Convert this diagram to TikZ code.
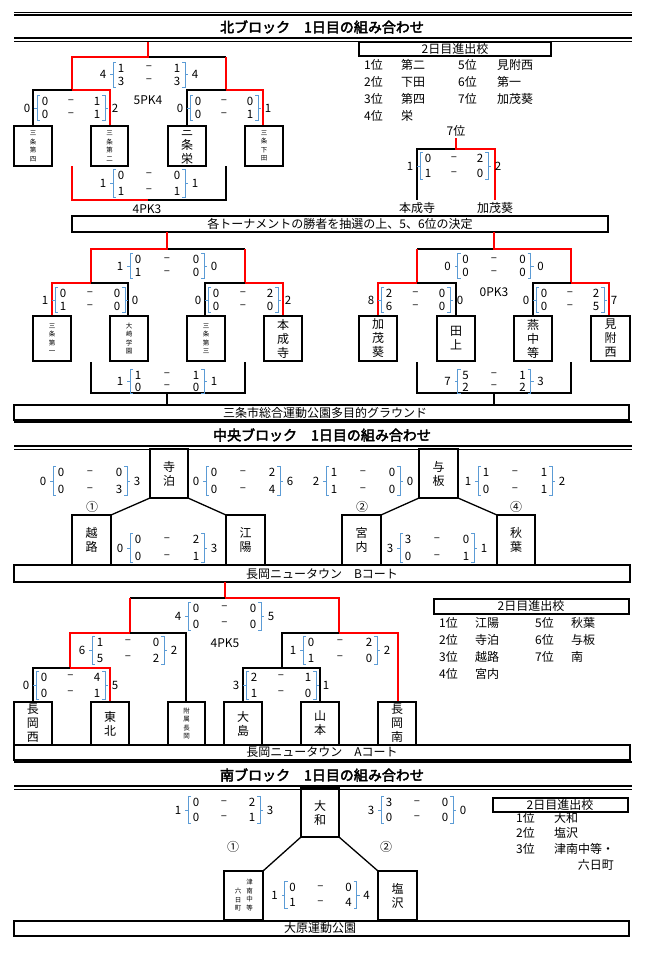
\documentclass[tikz,border=0pt]{standalone}
\usepackage{fontspec}
\setmainfont{Noto Sans CJK JP}[AutoFakeBold=3]
\newcommand\rowsp{6.5}
\newcommand\scr[9]{%
\begin{scope}[shift={(#1,#2)}]
\pgfmathsetmacro\bh{\rowsp+6}
\draw[bl] ({-#3+3},-\bh) -- ({-#3},-\bh) -- ({-#3},\bh) -- ({-#3+3},\bh) ({-#3},0) -- ({-#3-3},0);
\draw[bl] ({#3-3},-\bh) -- ({#3},-\bh) -- ({#3},\bh) -- ({#3-3},\bh) ({#3},0) -- ({#3+3},0);
\node[sn] at ({-#3-10},0) {#4};
\node[sn] at ({-#3+8},-\rowsp) {#5}; \node[sn] at (0,-\rowsp) {–}; \node[sn] at ({#3-8},-\rowsp) {#6};
\node[sn] at ({-#3+8},\rowsp) {#7}; \node[sn] at (0,\rowsp) {–}; \node[sn] at ({#3-8},\rowsp) {#8};
\node[sn] at ({#3+10},0) {#9};
\end{scope}}
\newcommand\tbox[6]{\draw[bx] (#2,#3) rectangle (#4,#5); \node[vt] (#1) at ({(#2+#4)/2},{(#3+#5)/2}) {#6};}
\newcommand\smbox[6]{\draw[bx] (#2,#3) rectangle (#4,#5); \node[vs] (#1) at ({(#2+#4)/2},{(#3+#5)/2}) {#6};}
\tikzset{
 bl/.style={draw={rgb,255:red,91;green,155;blue,213},line width=0.8pt},
 sn/.style={inner sep=0pt,font=\fontsize{11.5}{12}\selectfont},
 bx/.style={draw=black,line width=1.5pt},
 bk/.style={draw=black,line width=1.3pt},
 rd/.style={draw=red,line width=2.4pt},
 vt/.style={inner sep=0pt,align=center,font=\fontsize{12}{14}\selectfont},
 vs/.style={inner sep=0pt,align=center,font=\fontsize{6.5}{8.5}\selectfont},
 ttl/.style={inner sep=0pt,font=\bfseries\fontsize{14}{14}\selectfont},
 tx/.style={inner sep=0pt,font=\fontsize{12}{12}\selectfont},
 lab/.style={inner sep=0pt,anchor=west,font=\fontsize{12}{12}\selectfont},
 bigbox/.style={draw=black,line width=1.8pt},
}
\begin{document}
\begin{tikzpicture}[x=1pt,y=-1pt]
\useasboundingbox (0,0) rectangle (650,962);
\fill[white] (0,0) rectangle (650,962);
% ===== North header
\draw[line width=0.8pt] (14,12) -- (632,12); \draw[line width=1.5pt] (14,15) -- (632,15);
\draw[line width=1.5pt] (14,38) -- (632,38); \draw[line width=0.8pt] (14,41) -- (632,41);
\node[ttl] (tN) at (322,27) {北ブロック　1日目の組み合わせ};
% main north bracket
\draw[bk] (148,57) -- (226,57);
\draw[rd] (148,42) -- (148,57) -- (72,57) -- (72,90) -- (110,90) -- (110,127);
\draw[bk] (72,90) -- (33,90) -- (33,127);
\draw[rd] (226,57) -- (226,90) -- (263,90) -- (263,127);
\draw[bk] (226,90) -- (187,90) -- (187,127);
\draw[rd] (72,166) -- (72,200) -- (148,200);
\draw[bk] (148,200) -- (226,200) -- (226,166);
\smbox{b1}{14}{126}{52}{166}{三\\条\\第\\四}
\smbox{b2}{91}{126}{128}{166}{三\\条\\第\\二}
\tbox{b3}{168}{126}{206}{166}{三\\条\\栄}
\smbox{b4}{245}{126}{283}{166}{三\\条\\下\\田}
\scr{149}{74.5}{36}{4}{1}{1}{3}{3}{4}
\node[tx] at (148,100) {5PK4};
\scr{71}{108}{34}{0}{0}{1}{0}{1}{2}
\scr{224}{108}{34}{0}{0}{0}{0}{1}{1}
{\renewcommand\rowsp{8}\scr{149}{183}{36}{1}{0}{0}{1}{1}{1}}
\node[tx] at (147,209) {4PK3};
% right list
\draw[bx] (359,42) rectangle (551,56);
\node[tx] at (455,49) {2日目進出校};
\foreach \a/\b/\c/\d [count=\i] in {1位/第二/5位/見附西,2位/下田/6位/第一,3位/第四/7位/加茂葵,4位/栄//}{
 \node[lab] at (364,{48+17*\i}) {\a}; \node[lab] at (401,{48+17*\i}) {\b};
 \node[lab] at (458,{48+17*\i}) {\c}; \node[lab] at (497,{48+17*\i}) {\d};}
\node[tx] (p7) at (456,131) {7位};
\draw[bk] (456,149) -- (417,149) -- (417,200);
\draw[rd] (456,138) -- (456,149) -- (495,149) -- (495,200);
{\renewcommand\rowsp{7.5}\scr{454}{166}{34}{1}{0}{2}{1}{0}{2}}
\node[tx] at (417,208) {本成寺};
\node[tx] at (495,208) {加茂葵};
\draw[bx] (72,216) rectangle (608,232);
\node[tx] at (340,224) {各トーナメントの勝者を抽選の上、5、6位の決定};
% lower north left
\draw[bk] (167,249) -- (245,249);
\draw[rd] (167,232) -- (167,249) -- (91,249) -- (91,283) -- (52,283) -- (52,316);
\draw[bk] (91,283) -- (128,283) -- (128,316);
\draw[rd] (245,249) -- (245,283) -- (283,283) -- (283,316);
\draw[bk] (245,283) -- (205,283) -- (205,316);
\smbox{c1}{33}{316}{71}{361}{三\\条\\第\\一}
\smbox{c2}{110}{316}{148}{361}{大\\崎\\学\\園}
\smbox{c3}{187}{316}{225}{361}{三\\条\\第\\三}
\tbox{c4}{264}{316}{302}{361}{本\\成\\寺}
\scr{167}{266}{37}{1}{0}{0}{1}{0}{0}
\scr{90}{300}{35}{1}{0}{0}{1}{0}{0}
\scr{243}{300}{35}{0}{0}{2}{0}{0}{2}
\draw[bk] (91,362) -- (91,393) -- (245,393) -- (245,362) (167,393) -- (167,405);
{\renewcommand\rowsp{6}\scr{167}{381}{37}{1}{1}{1}{0}{0}{1}}
% lower north right
\draw[bk] (494,249) -- (417,249);
\draw[rd] (494,232) -- (494,249) -- (571,249) -- (571,283) -- (609,283) -- (609,316);
\draw[rd] (417,249) -- (417,283) -- (378,283) -- (378,316);
\draw[bk] (417,283) -- (456,283) -- (456,316);
\draw[bk] (571,283) -- (533,283) -- (533,316);
\tbox{d1}{359}{316}{397}{361}{加\\茂\\葵}
\tbox{d2}{437}{316}{475}{361}{田\\上}
\tbox{d3}{514}{316}{552}{361}{燕\\中\\等}
\tbox{d4}{591}{316}{630}{361}{見\\附\\西}
\scr{494}{266}{36.5}{0}{0}{0}{0}{0}{0}
\node[tx] at (494,292) {0PK3};
\scr{415.5}{300}{34.5}{8}{2}{0}{6}{0}{0}
\scr{570}{300}{34}{0}{0}{2}{0}{5}{7}
\draw[bk] (417,362) -- (417,393) -- (571,393) -- (571,362) (494,393) -- (494,405);
{\renewcommand\rowsp{6}\scr{494}{381}{36.5}{7}{5}{1}{2}{2}{3}}
\draw[bigbox] (14,405) rectangle (629,420);
\node[tx] at (325,413) {三条市総合運動公園多目的グラウンド};
% ===== Central
\draw[line width=1.5pt] (14,422) -- (632,422);
\node[ttl] (tC) at (322,435) {中央ブロック　1日目の組み合わせ};
\draw[line width=1.5pt] (14,446) -- (632,446); \draw[line width=0.8pt] (14,449) -- (632,449);
\tbox{e1}{150}{449}{188}{498}{寺\\泊}
\tbox{e2}{419}{449}{458}{498}{与\\板}
\tbox{e3}{72}{515}{111}{565}{越\\路}
\tbox{e4}{226}{515}{265}{565}{江\\陽}
\tbox{e5}{342}{515}{381}{565}{宮\\内}
\tbox{e6}{497}{515}{535}{565}{秋\\葉}
\draw[bk] (150,498) -- (111,515) (188,498) -- (226,515);
\draw[bk] (419,498) -- (381,515) (458,498) -- (497,515);
{\renewcommand\rowsp{8.5}
\scr{90}{481}{37}{0}{0}{0}{0}{3}{3}
\scr{243}{481}{37}{0}{0}{2}{0}{4}{6}
\scr{363}{481}{37}{2}{1}{0}{1}{0}{0}
\scr{515}{481}{37}{1}{1}{1}{0}{1}{2}
\scr{167}{548}{37}{0}{0}{2}{0}{1}{3}
\scr{437}{548}{37}{3}{3}{0}{0}{1}{1}}
\node[tx] at (92,507) {①};
\node[tx] at (362,507) {②};
\node[tx] at (516,507) {④};
\draw[bigbox] (14,565) rectangle (630,582);
\node[tx] at (322,574) {長岡ニュータウン　Bコート};
% Central lower bracket
\draw[rd] (225,582) -- (225,598) -- (339,598) -- (339,633) -- (398,633) -- (398,702);
\draw[bk] (225,598) -- (130,598);
\draw[rd] (130,598) -- (130,633) -- (70,633) -- (70,668) -- (110,668) -- (110,702);
\draw[bk] (70,668) -- (33,668) -- (33,702);
\draw[bk] (130,633) -- (186,633) -- (186,702);
\draw[bk] (339,633) -- (282,633) -- (282,668) (243,702) -- (243,668) -- (320,668) -- (320,702);
\tbox{f1}{14}{702}{52}{745}{長\\岡\\西}
\tbox{f2}{91}{702}{129}{745}{東\\北}
\smbox{f3}{168}{702}{205}{745}{附\\属\\長\\岡}
\tbox{f4}{224}{702}{262}{745}{大\\島}
\tbox{f5}{301}{702}{339}{745}{山\\本}
\tbox{f6}{378}{702}{416}{745}{長\\岡\\南}
{\renewcommand\rowsp{8}
\scr{224.5}{616}{36.5}{4}{0}{0}{0}{0}{5}
\scr{128}{650}{36}{6}{1}{0}{5}{2}{2}
\scr{340}{650}{37}{1}{0}{2}{1}{0}{2}
\scr{70.5}{685}{34.5}{0}{0}{4}{0}{1}{5}
\scr{281}{685}{35}{3}{2}{1}{1}{0}{1}}
\node[tx] at (225,643) {4PK5};
\draw[bigbox] (14,745) rectangle (630,760);
\node[tx] at (322,752) {長岡ニュータウン　Aコート};
\draw[bx] (434,599) rectangle (629,614);
\node[tx] at (531,606) {2日目進出校};
\foreach \a/\b/\c/\d [count=\i] in {1位/江陽/5位/秋葉,2位/寺泊/6位/与板,3位/越路/7位/南,4位/宮内//}{
 \node[lab] at (439,{606+17*\i}) {\a}; \node[lab] at (475,{606+17*\i}) {\b};
 \node[lab] at (535,{606+17*\i}) {\c}; \node[lab] at (571,{606+17*\i}) {\d};}
% ===== South
\draw[line width=1.5pt] (14,762) -- (632,762);
\node[ttl] (tS) at (322,775) {南ブロック　1日目の組み合わせ};
\draw[line width=1.5pt] (14,786) -- (632,786); \draw[line width=0.8pt] (14,789) -- (632,789);
\tbox{g1}{301}{788}{339}{837}{大\\和}
\draw[bx] (224,871) rectangle (263,920);
\node[vs] (g2a) at (249.5,895) {津\\南\\中\\等};
\node[vs] (g2b) at (238,900) {六\\日\\町};
\tbox{g3}{378}{871}{417}{920}{塩\\沢}
\draw[bk] (301,837) -- (263,871) (339,837) -- (378,871);
{\renewcommand\rowsp{7.5}
\scr{224}{810}{36}{1}{0}{2}{0}{1}{3}
\scr{417}{810}{36}{3}{3}{0}{0}{0}{0}
\scr{320.5}{895}{36}{1}{0}{0}{1}{4}{4}}
\node[tx] at (233,847) {①};
\node[tx] at (386,847) {②};
\draw[bx] (493,798) rectangle (628,812);
\node[tx] at (560,805) {2日目進出校};
\node[lab] at (516,818) {1位}; \node[lab] at (554,818) {大和};
\node[lab] at (516,833) {2位}; \node[lab] at (554,833) {塩沢};
\node[lab] at (516,849) {3位}; \node[lab] at (554,849) {津南中等・};
\node[inner sep=0pt,anchor=east,font=\fontsize{12}{12}\selectfont] at (614,865) {六日町};
\draw[bigbox] (14,921) rectangle (629,936);
\node[tx] at (320,928) {大原運動公園};
\end{tikzpicture}
\end{document}
